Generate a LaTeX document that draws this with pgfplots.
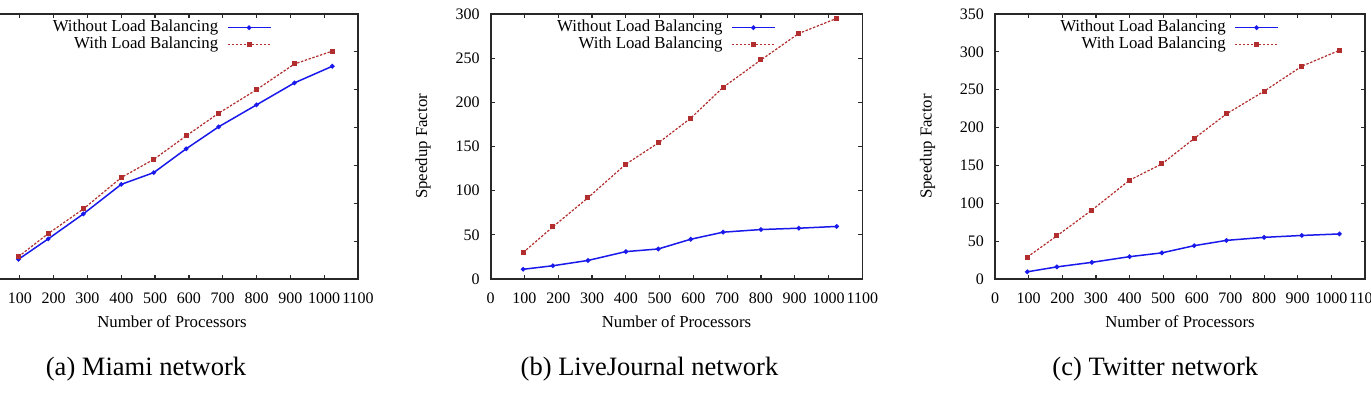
\documentclass[border=0pt]{standalone}
\usepackage{pgfplots}
\usepackage{pgfplotstable}
\pgfplotsset{compat=1.18}
\usepackage{fontspec}
\setmainfont{Liberation Serif}
\definecolor{lbblue}{RGB}{25,25,235}
\definecolor{lbred}{RGB}{178,45,45}
\definecolor{axgray}{RGB}{40,40,40}

\pgfplotstableread{
x    wo     w
96   26     29.5
184  53     60
288  86     92.5
400  125    134
496  140.5  158
592  172    189
688  201    219
800  230    250
912  259    284
1024 281    301
}\miami
\pgfplotstableread{
x    wo     w
96   11     30
184  15     59
288  21     92
400  31     130
496  34     154
592  45     182
688  53     217
800  56     248
912  57.5   278
1024 59.5   295
}\livejournal
\pgfplotstableread{
x    wo     w
96   9.5    29
184  16     57
288  22     91
400  29.5   130.5
496  34.5   152
592  44     185.5
688  51     218
800  55     248
912  57.5   281
1024 59.5   302
}\twitter

\pgfplotsset{
  lbstyle/.style={
    scale only axis, width=186pt, height=132.5pt,
    xmin=0, xmax=1100, xtick={0,100,...,1100},
    ymin=0,
    scaled ticks=false,
    /pgf/number format/1000 sep={},
    /pgf/number format/assume math mode=true,
    tick align=inside, tick pos=both,
    major tick length=2pt,
    axis line style={line width=0.8pt, axgray},
    every tick/.style={line width=0.6pt, axgray},
    tick label style={font=\fontsize{8}{10}\selectfont},
    xticklabel style={yshift=-3.25pt},
    yticklabel style={xshift=-2pt},
    xlabel={Number of Processors},
    ylabel={Speedup Factor},
    every axis x label/.style={at={(axis description cs:0.5,-0.162)}, anchor=center, font=\fontsize{8.4}{10}\selectfont},
    every axis y label/.style={at={(axis description cs:-0.182,0.5)}, anchor=center, rotate=90, font=\fontsize{8.4}{10}\selectfont},
    legend style={draw=none, fill=none, inner sep=0pt, column sep=4pt,
      font=\fontsize{8.4}{10}\selectfont,
      nodes={inner sep=0.3pt, text height=6pt, text depth=1.8pt},
      at={(axis description cs:0.768,1)}, anchor=north east, yshift=-2.45pt},
    legend cell align=right,
    legend plot pos=right,
    legend image code/.code={\draw[mark repeat=2, mark phase=2] plot coordinates {(0pt,0pt) (10.75pt,0pt) (21.5pt,0pt)};},
  },
  blueline/.style={lbblue, line width=0.75pt, mark=*, mark size=0.75pt, mark options={solid}},
  redline/.style={lbred, line width=0.6pt, dash pattern=on 1.2pt off 0.8pt, mark=square*, mark size=0.95pt, mark options={solid}},
}

\begin{document}
\begin{tikzpicture}
\useasboundingbox (0,0) rectangle (685.5pt,198pt);
\clip (0,0) rectangle (685.5pt,198pt);

\begin{axis}[lbstyle, at={(-7pt,58.5pt)}, anchor=south west, width=186pt, ymax=350, ytick={0,50,...,350},
  yticklabels={}, ylabel={},
  xticklabels={{},100,200,300,400,500,600,700,800,900,1000,1100}]
\addplot[blueline] table[x=x, y=wo] {\miami};
\addlegendentry{Without Load Balancing}
\addplot[redline] table[x=x, y=w] {\miami};
\addlegendentry{With Load Balancing}
\end{axis}

\begin{axis}[lbstyle, at={(245.35pt,58.5pt)}, anchor=south west, width=185.8pt, ymax=300, ytick={0,50,...,300}]
\addplot[blueline] table[x=x, y=wo] {\livejournal};
\addlegendentry{Without Load Balancing}
\addplot[redline] table[x=x, y=w] {\livejournal};
\addlegendentry{With Load Balancing}
\end{axis}

\begin{axis}[lbstyle, at={(497.5pt,58.5pt)}, anchor=south west, width=185pt, ymax=350, ytick={0,50,...,350}]
\addplot[blueline] table[x=x, y=wo] {\twitter};
\addlegendentry{Without Load Balancing}
\addplot[redline] table[x=x, y=w] {\twitter};
\addlegendentry{With Load Balancing}
\end{axis}

\node[anchor=base, font=\fontsize{13.25}{15}\selectfont] at (73pt,10.15pt) {(a) Miami network};
\node[anchor=base, font=\fontsize{13.25}{15}\selectfont] at (324.75pt,10.15pt) {(b) LiveJournal network};
\node[anchor=base, font=\fontsize{13.25}{15}\selectfont] at (577.65pt,10.15pt) {(c) Twitter network};
\end{tikzpicture}
\end{document}
